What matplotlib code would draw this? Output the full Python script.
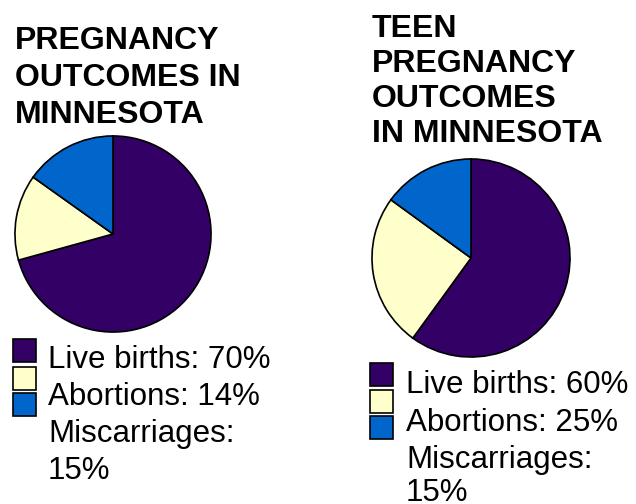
import matplotlib
matplotlib.use('Agg')
import matplotlib.pyplot as plt
from matplotlib.patches import Rectangle

W, H = 636, 504

labels = ['Live births', 'Abortions', 'Miscarriages']
all_values = [70, 14, 15]
teen_values = [60, 25, 15]
colors = ['#330066', '#ffffcc', '#0066cc']

left_title = ['PREGNANCY', 'OUTCOMES IN', 'MINNESOTA']
right_title = ['TEEN', 'PREGNANCY', 'OUTCOMES', 'IN MINNESOTA']

plt.rcParams['font.family'] = ['Liberation Sans', 'DejaVu Sans']

fig = plt.figure(figsize=(W / 100, H / 100), dpi=100)
fig.patch.set_facecolor('white')


def fx(x):
    return x / W


def fy(y):
    return 1 - y / H


def add_pie(cx, cy, r, values):
    ax = fig.add_axes([fx(cx - r), fy(cy + r), 2 * r / W, 2 * r / H])
    ax.pie(values, colors=colors, startangle=90, counterclock=False,
           wedgeprops=dict(edgecolor='black', linewidth=1.2))
    ax.set_xlim(-1.02, 1.02)
    ax.set_ylim(-1.02, 1.02)
    ax.set_aspect('auto')
    ax.axis('off')


def legend_lines(values):
    lines = []
    for lab, v in zip(labels, values):
        if lab == 'Miscarriages':
            lines += [lab + ':', f'{v}%']
        else:
            lines.append(f'{lab}: {v}%')
    return lines


def add_legend(box_x, box_ys, text_x, baselines, values):
    for y, c in zip(box_ys, colors):
        fig.patches.append(Rectangle((fx(box_x), fy(y + 23)), 23 / W, 23 / H,
                                     transform=fig.transFigure, facecolor=c,
                                     edgecolor='black', linewidth=1.2))
    for y, line in zip(baselines, legend_lines(values)):
        fig.text(fx(text_x), fy(y), line, fontsize=22.5, va='baseline', ha='left')


for y, line in zip([49, 86, 123], left_title):
    fig.text(fx(15), fy(y), line, fontsize=23, fontweight='bold', va='baseline')
for y, line in zip([37, 72, 107, 142], right_title):
    fig.text(fx(372), fy(y), line, fontsize=23, fontweight='bold', va='baseline')

add_pie(113, 234, 100, all_values)
add_pie(471, 258, 101, teen_values)

add_legend(13, [339, 367, 393], 48, [368, 405, 442, 479], all_values)
add_legend(370, [363, 390, 416], 406, [393, 431, 468, 501], teen_values)

fig.savefig('out.png', dpi=100)
